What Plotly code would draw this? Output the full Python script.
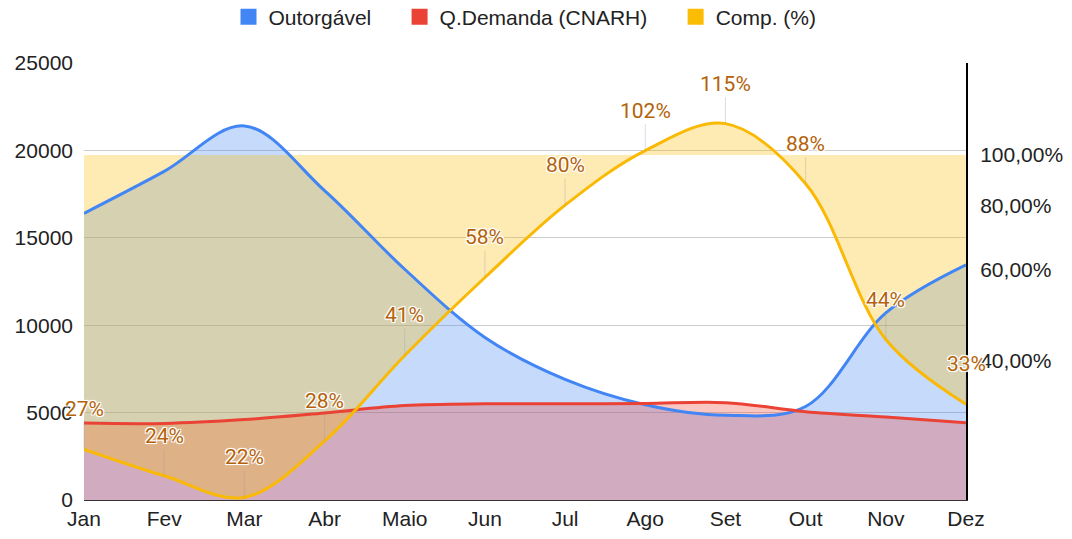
import math
import plotly.graph_objects as go

months = ["Jan", "Fev", "Mar", "Abr", "Maio", "Jun", "Jul", "Ago", "Set", "Out", "Nov", "Dez"]
outorgavel = [16400, 18800, 21400, 17700, 13200, 9300, 6900, 5450, 4850, 5350, 10700, 13450]
demanda = [4400, 4380, 4600, 4980, 5400, 5500, 5500, 5520, 5570, 5050, 4750, 4420]
comp = [0.27, 0.24, 0.218, 0.28, 0.41, 0.58, 0.80, 1.02, 1.15, 0.88, 0.44, 0.33]
comp_labels = ["27%", "24%", "22%", "28%", "41%", "58%", "80%", "102%", "115%", "88%", "44%", "33%"]
left_ticks = [0, 5000, 10000, 15000, 20000, 25000]
left_ticktext = ["0", "5000", "10000", "15000", "20000", "25000"]
right_tickvals = [0.4, 0.6, 0.8, 1.0]
right_ticktext = ["40,00%", "60,00%", "80,00%", "100,00%"]
legend_names = ["Outorgável", "Q.Demanda (CNARH)", "Comp. (%)"]
comp_base = 1.0

BLUE = "#4285F4"
RED = "#EA4335"
YEL = "#F9B904"
FONT = "Arial, Liberation Sans, sans-serif"
PAD = "\u00a0" * 4

fig = go.Figure()

# fills
fig.add_trace(go.Scatter(x=months, y=outorgavel, mode="lines", line=dict(width=0, shape="spline"),
                         fill="tozeroy", fillcolor="rgba(66,133,244,0.3)", showlegend=False, hoverinfo="skip",
                         yaxis="y"))
fig.add_trace(go.Scatter(x=months, y=demanda, mode="lines", line=dict(width=0, shape="spline"),
                         fill="tozeroy", fillcolor="rgba(234,67,53,0.3)", showlegend=False, hoverinfo="skip",
                         yaxis="y"))
fig.add_trace(go.Scatter(x=months, y=[comp_base] * len(months), mode="lines", line=dict(width=0),
                         showlegend=False, hoverinfo="skip", yaxis="y2"))
fig.add_trace(go.Scatter(x=months, y=comp, mode="lines", line=dict(width=0, shape="spline"),
                         fill="tonexty", fillcolor="rgba(251,188,4,0.3)", showlegend=False, hoverinfo="skip",
                         yaxis="y2"))

# lines on top
fig.add_trace(go.Scatter(x=months, y=outorgavel, mode="lines", line=dict(color=BLUE, width=3, shape="spline"),
                         showlegend=False, yaxis="y3"))
fig.add_trace(go.Scatter(x=months, y=demanda, mode="lines", line=dict(color=RED, width=3, shape="spline"),
                         showlegend=False, yaxis="y3"))
fig.add_trace(go.Scatter(x=months, y=comp, mode="lines", line=dict(color=YEL, width=3, shape="spline"),
                         showlegend=False, yaxis="y4"))

# legend entries
for i, (name, col) in enumerate(zip(legend_names, [BLUE, RED, "#FBBC04"])):
    label = name + (PAD if i < len(legend_names) - 1 else "")
    fig.add_trace(go.Scatter(x=[None], y=[None], mode="markers", name=label,
                             marker=dict(symbol="square", size=16, color=col)))

r_lo = math.log10(0.2155)
r_hi = math.log10(1.506)

annotations = []
for m, v, t in zip(months, comp, comp_labels):
    annotations.append(dict(
        x=m, y=math.log10(v), xref="x", yref="y2", text=t,
        showarrow=True, arrowhead=0, arrowwidth=1, arrowcolor="rgba(160,160,160,0.35)",
        ax=0, ay=-40, standoff=0,
        font=dict(family="Roboto, Arial, sans-serif", size=21, color="#B4620A",
                  shadow="-1px -1px 0 #fff, 1px -1px 0 #fff, -1px 1px 0 #fff, 1px 1px 0 #fff, 0 0 3px #fff"),
    ))

fig.update_layout(
    width=1072, height=539,
    margin=dict(l=84, r=106, t=63, b=39, autoexpand=False),
    paper_bgcolor="white", plot_bgcolor="white",
    font=dict(family=FONT, size=21, color="#222"),
    showlegend=True,
    legend=dict(orientation="h", traceorder="normal", x=0.5, xanchor="center", y=1.105, yanchor="middle",
                font=dict(family=FONT, size=21, color="#222"), bgcolor="rgba(0,0,0,0)"),
    xaxis=dict(type="category", range=[0, 11], showgrid=False, showline=True, linecolor="#333",
               linewidth=1, ticks="", tickfont=dict(size=21, color="#222"), zeroline=False),
    yaxis=dict(range=[0, 25000], tickvals=left_ticks, ticktext=left_ticktext, showgrid=True,
               gridcolor="#cccccc", gridwidth=1,
               zeroline=False, showline=False, ticks="", tickfont=dict(size=21, color="#222"),
               ticklabelstandoff=10),
    yaxis2=dict(type="log", range=[r_lo, r_hi], overlaying="y", side="right", tickvals=right_tickvals,
                ticktext=right_ticktext, showgrid=False, showline=True, linecolor="#000", linewidth=2,
                ticks="", tickfont=dict(size=21, color="#222"), zeroline=False, ticklabelstandoff=8),
    yaxis3=dict(range=[0, 25000], overlaying="y", visible=False),
    yaxis4=dict(type="log", range=[r_lo, r_hi], overlaying="y", visible=False),
    annotations=annotations,
)

fig.write_html("out.html", config={"displayModeBar": False},
               post_script="document.body.style.margin='0';document.body.style.overflow='hidden';")
